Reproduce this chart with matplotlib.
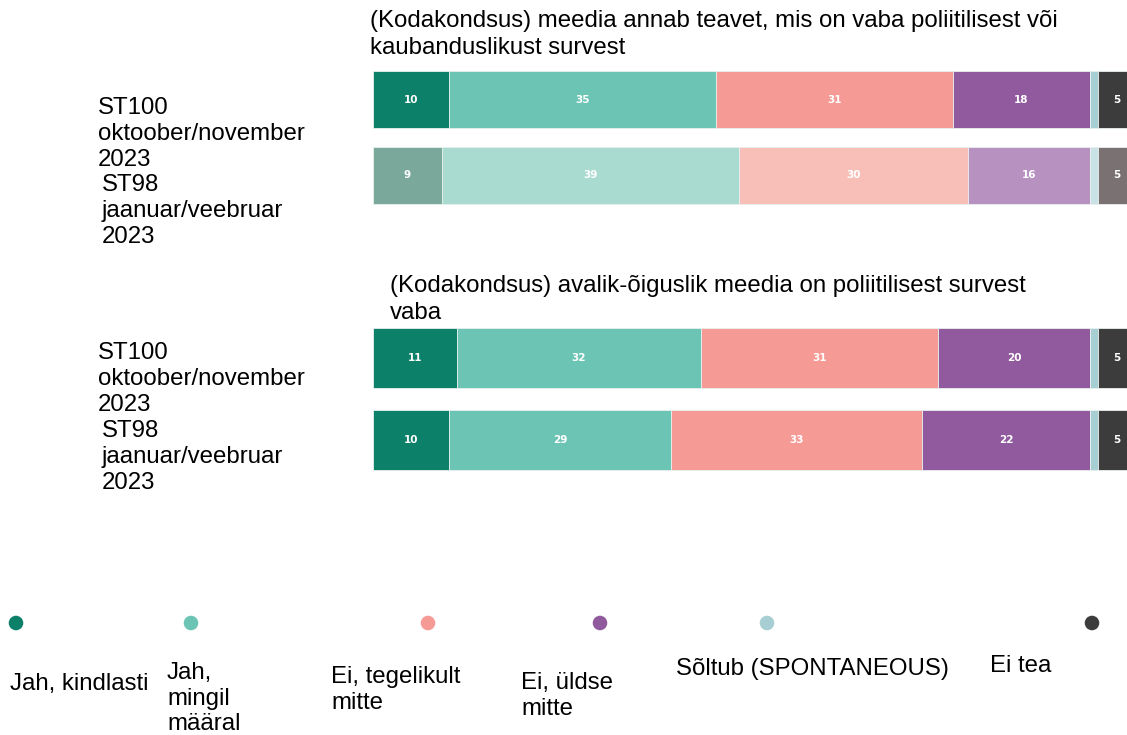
import matplotlib
matplotlib.use('Agg')
import matplotlib.pyplot as plt

# Data
categories = ['Jah, kindlasti', 'Jah,\nmingil\nmääral', 'Ei, tegelikult\nmitte',
              'Ei, üldse\nmitte', 'Sõltub (SPONTANEOUS)', 'Ei tea']
questions = ['(Kodakondsus) meedia annab teavet, mis on vaba poliitilisest või\nkaubanduslikust survest',
             '(Kodakondsus) avalik-õiguslik meedia on poliitilisest survest\nvaba']
waves = ['ST100\noktoober/november\n2023', 'ST98\njaanuar/veebruar\n2023']

q1_st100 = [10, 35, 31, 18, 1, 5]
q1_st98 = [9, 39, 30, 16, 1, 5]
q2_st100 = [11, 32, 31, 20, 1, 5]
q2_st98 = [10, 29, 33, 22, 1, 5]

colors = ['#0d8069', '#6cc5b4', '#f59a95', '#925a9e', '#a6ced3', '#3c3c3c']
faded = ['#7aa89a', '#aadbd0', '#f8beb8', '#b792c0', '#c8e2e5', '#7a7272']

W, H = 1127, 735
plt.rcParams['font.family'] = ['Liberation Sans', 'DejaVu Sans']
fig = plt.figure(figsize=(W / 100, H / 100), dpi=100)


def px_axes(x0, y0, x1, y1):
    return fig.add_axes([x0 / W, 1 - y1 / H, (x1 - x0) / W, (y1 - y0) / H])


def draw_group(ax, rows, row_colors, height):
    for i, (vals, cols) in enumerate(zip(rows, row_colors)):
        left = 0
        for v, c in zip(vals, cols):
            ax.barh(i, v, left=left, height=height, color=c, edgecolor='#e8f0ee', linewidth=0.6)
            if v >= 3:
                ax.text(left + v / 2, i, str(v), ha='center', va='center', color='white',
                        fontsize=7.5, fontweight='bold', family='DejaVu Sans')
            left += v
    ax.set_xlim(0, (W - 373) / 7.63)
    ax.set_ylim(1.5, -0.5)
    ax.axis('off')


ax1 = px_axes(373, 62, W, 213)
draw_group(ax1, [q1_st100, q1_st98], [colors, faded], 0.755)
ax2 = px_axes(373, 317, W, 481)
draw_group(ax2, [q2_st100, q2_st98], [colors, colors], 0.73)

fs = 17.3
fig.text(370 / W, 1 - 10 / H, questions[0], fontsize=fs, va='top', ha='left', linespacing=1.28)
fig.text(390 / W, 1 - 275 / H, questions[1], fontsize=fs, va='top', ha='left', linespacing=1.28)

for (x, y), lab in zip([(98, 97), (102, 174), (98, 342), (102, 420)], waves * 2):
    fig.text(x / W, 1 - y / H, lab, fontsize=fs, va='top', ha='left', linespacing=1.24)

# legend
lax = px_axes(0, 600, W, 735)
lax.set_xlim(0, W)
lax.set_ylim(135, 0)
lax.axis('off')
dot_x = [16, 191, 428, 600, 767, 1092]
lab_pos = [(10, 673), (167, 662), (331, 666), (521, 672), (676, 658), (990, 655)]
for c, x in zip(colors, dot_x):
    lax.scatter(x, 23, s=110, color=c, edgecolor='none')
for lab, (x, y) in zip(categories, lab_pos):
    fig.text(x / W, 1 - y / H, lab, fontsize=fs, va='top', ha='left', linespacing=1.22)

fig.savefig('out.png', dpi=100)
